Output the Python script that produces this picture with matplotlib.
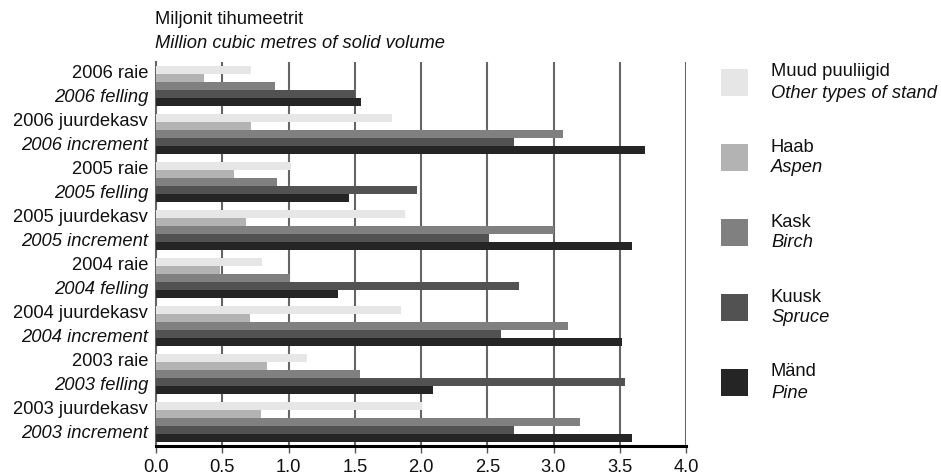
import matplotlib
matplotlib.use("Agg")
import matplotlib.pyplot as plt
import matplotlib.transforms as mtransforms
from matplotlib.patches import Rectangle
import numpy as np

plt.rcParams['font.family'] = ['Liberation Sans', 'DejaVu Sans']

cat_main = ["2006 raie", "2006 juurdekasv", "2005 raie", "2005 juurdekasv",
            "2004 raie", "2004 juurdekasv", "2003 raie", "2003 juurdekasv"]
cat_en = ["2006 felling", "2006 increment", "2005 felling", "2005 increment",
          "2004 felling", "2004 increment", "2003 felling", "2003 increment"]

other = [0.72, 1.78, 1.02, 1.88, 0.80, 1.85, 1.14, 2.01]
aspen = [0.36, 0.72, 0.59, 0.68, 0.48, 0.71, 0.84, 0.79]
birch = [0.90, 3.07, 0.91, 3.00, 1.01, 3.11, 1.54, 3.20]
spruce = [1.50, 2.70, 1.97, 2.51, 2.74, 2.60, 3.54, 2.70]
pine = [1.55, 3.69, 1.46, 3.59, 1.37, 3.52, 2.09, 3.59]

series_main = ["Muud puuliigid", "Haab", "Kask", "Kuusk", "Mänd"]
series_en = ["Other types of stand", "Aspen", "Birch", "Spruce", "Pine"]
series_vals = [other, aspen, birch, spruce, pine]
colors = ["#e6e6e6", "#b3b3b3", "#808080", "#525252", "#252525"]

xticks = [0.0, 0.5, 1.0, 1.5, 2.0, 2.5, 3.0, 3.5, 4.0]
xtick_labels = ["0.0", "0.5", "1.0", "1.5", "2.0", "2.5", "3.0", "3.5", "4.0"]

W, H = 941, 475
fig = plt.figure(figsize=(W / 100, H / 100), dpi=100)
ax = fig.add_axes([156 / W, 1 - 446 / H, (686 - 156) / W, (446 - 62) / H])

fs = 13.2
n = len(cat_main)
ypos = np.arange(n)
bh = 1 / 6
for k, (vals, c) in enumerate(zip(series_vals, colors)):
    ax.barh(ypos + (k - 2) * bh, vals, height=bh, color=c, linewidth=0, zorder=3)

ax.set_xlim(0, 4.0)
ax.set_ylim(n - 0.5, -0.5)
ax.set_axisbelow(True)
ax.set_xticks(xticks)
ax.set_xticklabels(xtick_labels, fontsize=fs, color="#111111")
ax.set_yticks([])
ax.tick_params(axis="x", direction="out", length=5, width=1, color="#555555", pad=4)
ax.grid(axis="x", color="#666666", linewidth=1.5, zorder=0)
for s in ["top", "right"]:
    ax.spines[s].set_visible(False)
ax.spines["left"].set_color("#666666")
ax.spines["left"].set_linewidth(1.5)
ax.spines["bottom"].set_color("#000000")
ax.spines["bottom"].set_linewidth(2.2)

trans = mtransforms.offset_copy(
    mtransforms.blended_transform_factory(ax.transAxes, ax.transData), fig=fig, x=-8, y=0, units="dots")
for i in range(n):
    ax.text(0, i - 0.25, cat_main[i], transform=trans, ha="right", va="center", fontsize=fs, color="#111111")
    ax.text(0, i + 0.23, cat_en[i], transform=trans, ha="right", va="center", fontsize=fs,
            style="italic", color="#111111")

fig.text(155 / W, 1 - 19 / H, "Miljonit tihumeetrit", ha="left", va="center", fontsize=fs, color="#111111")
fig.text(155 / W, 1 - 44 / H, "Million cubic metres of solid volume", ha="left", va="center",
         fontsize=fs, style="italic", color="#111111")

for k in range(5):
    top = 69 + k * 75
    fig.add_artist(Rectangle((721 / W, 1 - (top + 27) / H), 27 / W, 27 / H,
                             transform=fig.transFigure, facecolor=colors[k], edgecolor="none"))
    fig.text(771 / W, 1 - (top + 3) / H, series_main[k], ha="left", va="center", fontsize=fs, color="#111111")
    fig.text(771 / W, 1 - (top + 24) / H, series_en[k], ha="left", va="center", fontsize=fs,
             style="italic", color="#111111")

fig.savefig("out.png", dpi=100)
